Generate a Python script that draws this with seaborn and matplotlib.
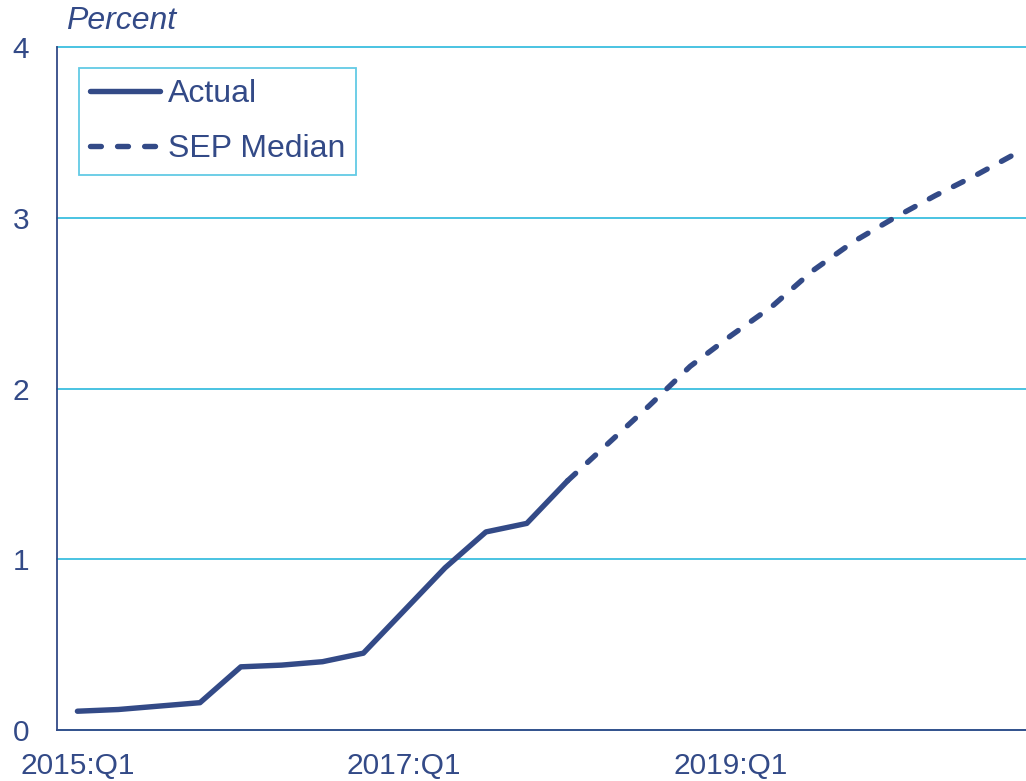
import pandas as pd
import matplotlib
matplotlib.use("Agg")
import matplotlib.pyplot as plt
import seaborn as sns

# quarterly values, 2015:Q1 onward (index 0 = 2015:Q1)
actual_vals = [0.11, 0.12, 0.14, 0.16, 0.37, 0.38, 0.40, 0.45,
               0.70, 0.95, 1.16, 1.21, 1.46]
sep_vals = [1.46, 1.68, 1.90, 2.13, 2.31, 2.48, 2.69, 2.86,
            3.00, 3.13, 3.25, 3.38]
sep_start = 12
year_ticks = [0, 4, 8, 12, 16, 20]
label_pos = [0, 8, 16]
tick_labels = ["2015:Q1", "2017:Q1", "2019:Q1"]

navy = "#334A87"
cyan = "#3CBEDF"

df_actual = pd.DataFrame({"q": [i + 0.5 for i in range(len(actual_vals))],
                          "value": actual_vals})
df_sep = pd.DataFrame({"q": [sep_start + i + 0.5 for i in range(len(sep_vals))],
                       "value": sep_vals})

sns.set_style("white")
plt.rcParams["font.family"] = ["Liberation Sans", "DejaVu Sans"]

fig = plt.figure(figsize=(10.26, 7.81), dpi=100)
ax = fig.add_axes([57 / 1026, 51 / 781, 969 / 1026, 683 / 781])

sns.lineplot(data=df_actual, x="q", y="value", color=navy, linewidth=3.9,
             label="Actual", ax=ax)
sns.lineplot(data=df_sep, x="q", y="value", color=navy, linewidth=3.9,
             linestyle=(0, (2, 3)), label="SEP Median", ax=ax)
for ln in ax.get_lines():
    ln.set_dash_capstyle("round")
    ln.set_solid_capstyle("round")

ax.set_xlim(0, 23.72)
ax.set_ylim(0, 4)
ax.set_yticks([0, 1, 2, 3, 4])
ax.set_yticklabels(["0", "1", "2", "3", "4"])
ax.yaxis.grid(True, color=cyan, linewidth=1.3)
for gl in ax.get_ygridlines():
    gl.set_clip_on(False)
ax.set_axisbelow(True)

ax.set_xticks([p + 0.5 for p in label_pos])
ax.set_xticklabels(tick_labels)
ax.set_xticks(year_ticks, minor=True)
ax.tick_params(axis="x", which="major", length=0, pad=15.5, labelsize=21.5, colors=navy)
ax.tick_params(axis="x", which="minor", length=6.5, width=1.3, color=navy, direction="out")
ax.tick_params(axis="y", length=0, pad=20, labelsize=21.5, colors=navy)
ax.set_xlabel("")
ax.set_ylabel("")

for s in ["top", "right"]:
    ax.spines[s].set_visible(False)
for s in ["left", "bottom"]:
    ax.spines[s].set_color(navy)
    ax.spines[s].set_linewidth(1.3)
    ax.spines[s].set_zorder(3)

leg = ax.legend(loc="upper left", bbox_to_anchor=(22 / 969, 662 / 683),
                borderaxespad=0, fontsize=23, frameon=True, fancybox=False,
                handlelength=2.2, handletextpad=0.24, labelspacing=0.8,
                borderpad=0.34)
leg.get_frame().set_edgecolor(cyan)
leg.get_frame().set_linewidth(1.3)
for t in leg.get_texts():
    t.set_color(navy)
for h in leg.get_lines():
    h.set_dash_capstyle("round")
    h.set_solid_capstyle("round")

fig.text(66 / 1026, 1 - 21 / 781, "Percent", ha="left", va="center",
         fontsize=23, style="italic", color=navy)

fig.savefig("out.png", dpi=100)
